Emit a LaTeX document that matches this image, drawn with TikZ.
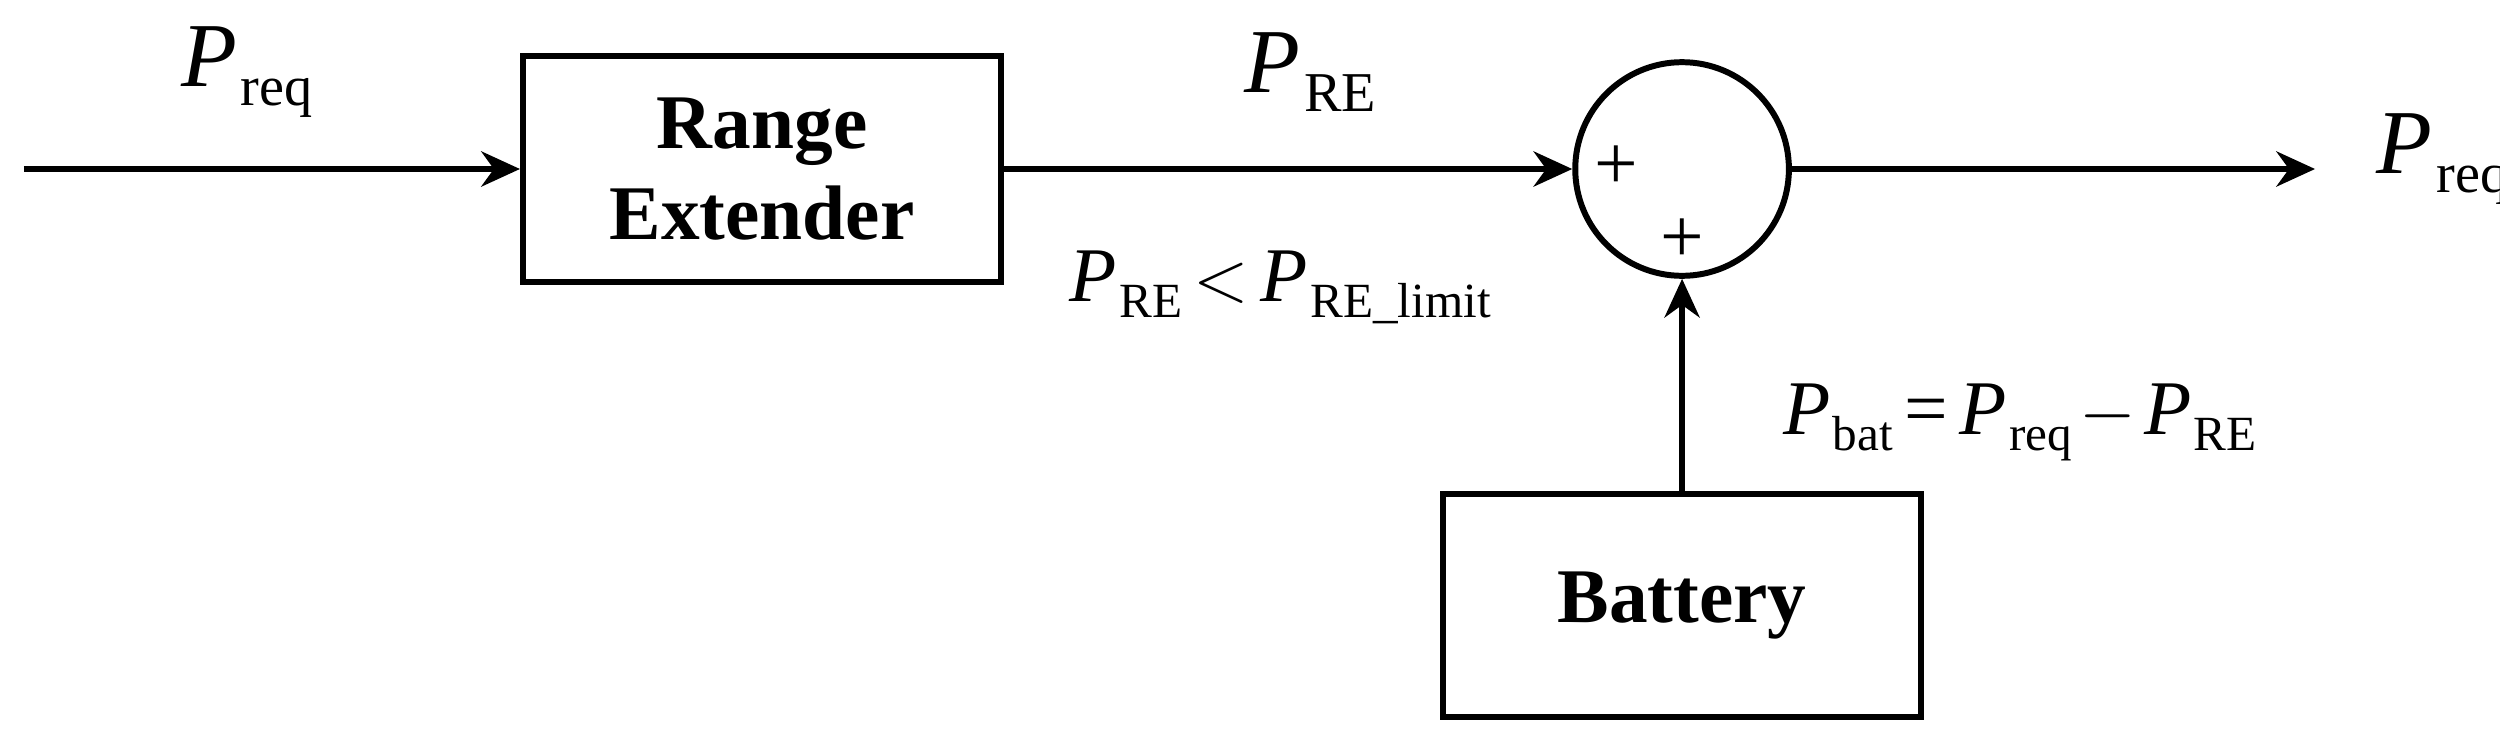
\documentclass[tikz,border=0pt]{standalone}
\usepackage{fontspec}
\setmainfont{Liberation Serif}
\usetikzlibrary{arrows.meta}
\newcommand{\Psub}[1]{\textit{P}\kern0.04em\raisebox{-0.45ex}{\fontsize{16}{16}\selectfont #1}}
\newcommand{\Psubs}[1]{\textit{P}\kern0.03em\raisebox{-0.45ex}{\fontsize{14}{14}\selectfont #1}}
\begin{document}
\begin{tikzpicture}[x=0.01594cm,y=-0.01594cm,
  blk/.style={draw,line width=1.7pt,minimum width=300*0.01594cm,minimum height=142*0.01594cm,font=\fontsize{22}{26}\selectfont\bfseries,align=center},
  con/.style={line width=1.7pt,-{Stealth[length=11pt,width=10pt]}},
  lbl/.style={font=\fontsize{26}{30}\selectfont,inner sep=0},
  lbls/.style={font=\fontsize{22}{26}\selectfont,inner sep=0}]
\useasboundingbox (0,0) rectangle (1568,472);
\node[blk] (re) at (478,106) {Range\\Extender};
\node[blk,minimum height=140*0.01594cm] (bat) at (1055,380) {Battery};
\node[draw,circle,line width=1.7pt,minimum size=134*0.01594cm,inner sep=0] (sum) at (1055,106) {};
\coordinate (in) at (15,106);
\coordinate (out) at (1452,106);
\draw[con] (in) -- (re.west |- in);
\draw[con] (re.east |- sum) -- (sum.west);
\draw[con] (sum.east) -- (out);
\draw[con] (bat.north -| sum) -- (sum.south);
\node[font=\fontsize{22}{22}\selectfont] (p1) at (1014,105) {+};
\node[font=\fontsize{22}{22}\selectfont] (p2) at (1055,151) {+};
\node[lbl] (l1) at (155,45) {\Psub{req}};
\node[lbl] (l2) at (822,45) {\Psub{RE}};
\node[lbl] (l3) at (1532,100) {\Psub{req}};
\node[lbls] (l4) at (803,180) {\Psubs{RE}\kern0.15em$<$\kern0.15em\Psubs{RE\_limit}};
\node[lbls] (l5) at (1267,265) {\Psubs{bat}\kern0.15em=\kern0.15em\Psubs{req}\kern0.1em$-$\kern0.1em\Psubs{RE}};
\end{tikzpicture}
\end{document}
